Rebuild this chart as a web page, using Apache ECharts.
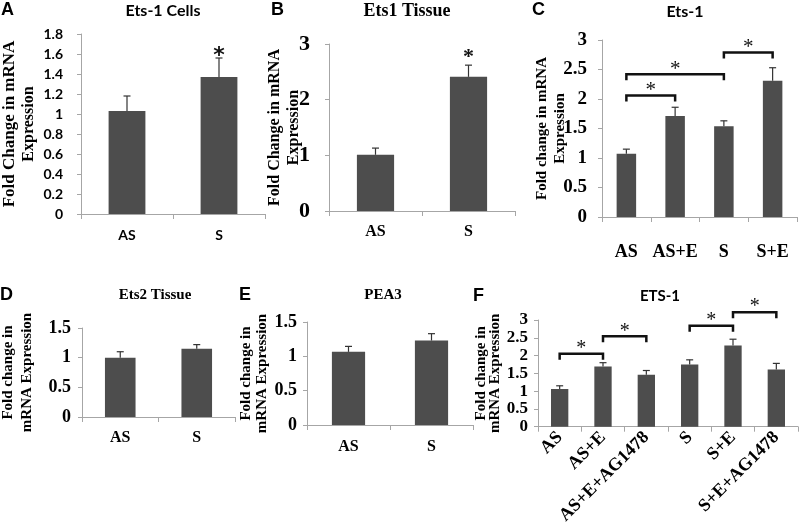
<!DOCTYPE html>
<html><head><meta charset="utf-8">
<script src="https://cdn.jsdelivr.net/npm/echarts@6/dist/echarts.min.js"></script>
<style>html,body{margin:0;padding:0;background:#fff}#c{width:800px;height:527px}</style>
</head><body><div id="c"></div>
<script>
// ---------- data ----------
// Panel A: Ets-1 Cells
const catsA = ['AS', 'S'];
const valsA = [1.03, 1.37];
const errA = [0.15, 0.19];
const starsA = [1];
const ticksA = [0, 0.2, 0.4, 0.6, 0.8, 1, 1.2, 1.4, 1.6, 1.8];
// Panel B: Ets1 Tissue
const catsB = ['AS', 'S'];
const valsB = [1.01, 2.41];
const errB = [0.12, 0.21];
const starsB = [1];
const ticksB = [0, 1, 2, 3];
// Panel C: Ets-1
const catsC = ['AS', 'AS+E', 'S', 'S+E'];
const valsC = [1.07, 1.71, 1.54, 2.31];
const errC = [0.08, 0.15, 0.09, 0.22];
const bracketsC = [[0, 1, 2.06], [0, 2, 2.42], [2, 3, 2.79]];
const ticksC = [0, 0.5, 1, 1.5, 2, 2.5, 3];
// Panel D: Ets2 Tissue
const catsD = ['AS', 'S'];
const valsD = [1.0, 1.15];
const errD = [0.10, 0.07];
const ticksD = [0, 0.5, 1, 1.5];
// Panel E: PEA3
const catsE = ['AS', 'S'];
const valsE = [1.065, 1.23];
const errE = [0.08, 0.10];
const ticksE = [0, 0.5, 1, 1.5];
// Panel F: ETS-1
const catsF = ['AS', 'AS+E', 'AS+E+AG1478', 'S', 'S+E', 'S+E+AG1478'];
const valsF = [1.06, 1.69, 1.46, 1.75, 2.28, 1.61];
const errF = [0.09, 0.11, 0.12, 0.13, 0.18, 0.17];
const bracketsF = [[0, 1, 2.05], [1, 2, 2.54], [3, 4, 2.84], [4, 5, 3.22]];
const ticksF = [0, 0.5, 1, 1.5, 2, 2.5, 3];

// ---------- styling ----------
const SERIF = '"Liberation Serif", "Times New Roman", serif';
const SANS = 'Lato, "Open Sans", sans-serif';
const ARIAL = '"Liberation Sans", Arial, sans-serif';
const AXIS = '#a6a6a6';
const BAR = '#4d4d4d';

const panels = [
  { cats: catsA, vals: valsA, errs: errA, stars: starsA, brackets: [], ticks: ticksA,
    grid: { left: 79, top: 34, width: 186, height: 180 },
    tickFam: SANS, tickSize: 14, tickMargin: 18, xFam: SANS, xSize: 14, xMargin: 14, rot: 0,
    name: ['Fold Change in mRNA', 'Expression'], nameSizes: [17, 16], nameLH: 19, nameGap: 43,
    starFont: 'bold 22px "DejaVu Sans"', starDy: -2 },
  { cats: catsB, vals: valsB, errs: errB, stars: starsB, brackets: [], ticks: ticksB,
    grid: { left: 329, top: 44, width: 186, height: 167 },
    tickFam: SERIF, tickSize: 22, tickMargin: 19, xFam: SERIF, xSize: 16, xMargin: 13, rot: 0,
    name: ['Fold Change in mRNA', 'Expression'], nameSizes: [16, 16], nameLH: 19, nameGap: 26,
    starFont: 'bold 22px ' + SERIF, starDy: -8 },
  { cats: catsC, vals: valsC, errs: errC, stars: [], brackets: bracketsC, ticks: ticksC,
    grid: { left: 602, top: 40, width: 195, height: 177 },
    tickFam: SERIF, tickSize: 19, tickMargin: 15, xFam: SERIF, xSize: 18, xMargin: 26, rot: 0,
    name: ['Fold change in mRNA', 'Expression'], nameSizes: [15, 15], nameLH: 18, nameGap: 33,
    bracketStarFont: '21px ' + SERIF, bracketDrop: 6 },
  { cats: catsD, vals: valsD, errs: errD, stars: [], brackets: [], ticks: ticksD,
    grid: { left: 80, top: 328, width: 155, height: 89 },
    tickFam: SERIF, tickSize: 18, tickMargin: 11, xFam: SERIF, xSize: 16, xMargin: 13, rot: 0,
    name: ['Fold change in', 'mRNA Expression'], nameSizes: [15, 15], nameLH: 19, nameGap: 45 },
  { cats: catsE, vals: valsE, errs: errE, stars: [], brackets: [], ticks: ticksE,
    grid: { left: 307, top: 322, width: 166, height: 103 },
    tickFam: SERIF, tickSize: 18, tickMargin: 10, xFam: SERIF, xSize: 16, xMargin: 14, rot: 0,
    name: ['Fold change in', 'mRNA Expression'], nameSizes: [15, 15], nameLH: 16, nameGap: 37 },
  { cats: catsF, vals: valsF, errs: errF, stars: [], brackets: bracketsF, ticks: ticksF,
    grid: { left: 538, top: 320, width: 260, height: 112 },
    tickFam: SERIF, tickSize: 17, tickMargin: 10, xFam: SERIF, xSize: 18, xMargin: 8, rot: 45,
    name: ['Fold change in', 'mRNA Expression'], nameSizes: [15, 15], nameLH: 14, nameGap: 36,
    bracketStarFont: '20px ' + SERIF, bracketDrop: 6 }
];

const grids = [], xAxes = [], yAxes = [], series = [];
panels.forEach((p, k) => {
  grids.push(Object.assign({ containLabel: false }, p.grid));
  xAxes.push({
    gridIndex: k, type: 'category', data: p.cats,
    axisLine: { show: true, lineStyle: { color: AXIS, width: 1 } },
    axisTick: { show: true, length: 5, lineStyle: { color: AXIS } },
    axisLabel: { fontFamily: p.xFam, fontSize: p.xSize, fontWeight: 'bold', color: '#000',
      margin: p.xMargin, rotate: p.rot, interval: 0 }
  });
  yAxes.push({
    gridIndex: k, type: 'value',
    min: p.ticks[0], max: p.ticks[p.ticks.length - 1], interval: p.ticks[1] - p.ticks[0],
    splitLine: { show: false },
    axisLine: { show: true, lineStyle: { color: AXIS, width: 1 } },
    axisTick: { show: true, length: 4, lineStyle: { color: AXIS } },
    axisLabel: { fontFamily: p.tickFam, fontSize: p.tickSize, fontWeight: 'bold', color: '#000', margin: p.tickMargin },
    name: '{a|' + p.name[0] + '}\n{b|' + p.name[1] + '}',
    nameLocation: 'middle', nameRotate: 90, nameGap: p.nameGap, nameMoveOverlap: false,
    nameTextStyle: {
      rich: {
        a: { fontFamily: SERIF, fontWeight: 'bold', fontSize: p.nameSizes[0], lineHeight: p.nameLH, color: '#000' },
        b: { fontFamily: SERIF, fontWeight: 'bold', fontSize: p.nameSizes[1], lineHeight: p.nameLH, color: '#000' }
      }
    }
  });
  series.push({
    type: 'bar', xAxisIndex: k, yAxisIndex: k, data: p.vals, barWidth: '40%',
    itemStyle: { color: BAR }, silent: true
  });
  series.push({
    type: 'custom', xAxisIndex: k, yAxisIndex: k, z: 4, silent: true,
    encode: { x: 0, y: 1 },
    data: p.cats.map((c, i) => [i, p.vals[i], p.errs[i]]),
    renderItem: function (params, api) {
      const i = api.value(0), v = api.value(1), e = api.value(2);
      const p0 = api.coord([i, v]), p1 = api.coord([i, v + e]);
      const st = { stroke: '#333', lineWidth: 1.2 };
      const ch = [
        { type: 'line', shape: { x1: p0[0], y1: p0[1], x2: p1[0], y2: p1[1] }, style: st },
        { type: 'line', shape: { x1: p1[0] - 3.5, y1: p1[1], x2: p1[0] + 3.5, y2: p1[1] }, style: st }
      ];
      if (p.stars.indexOf(i) >= 0) {
        ch.push({ type: 'text', x: p1[0], y: p1[1] + p.starDy,
          style: { text: '*', font: p.starFont, fill: '#111', align: 'center', verticalAlign: 'middle' } });
      }
      return { type: 'group', children: ch };
    }
  });
  if (p.brackets.length) {
    series.push({
      type: 'custom', xAxisIndex: k, yAxisIndex: k, z: 4, silent: true, clip: false,
      encode: { x: [0, 1], y: 2 },
      data: p.brackets,
      renderItem: function (params, api) {
        const a = api.value(0), b = api.value(1), lv = api.value(2);
        const pa = api.coord([a, lv]), pb = api.coord([b, lv]);
        const d = p.bracketDrop;
        return { type: 'group', children: [
          { type: 'polyline', shape: { points: [[pa[0], pa[1] + d], [pa[0], pa[1]], [pb[0], pb[1]], [pb[0], pb[1] + d]] },
            style: { stroke: '#111', lineWidth: 2.5, fill: null } },
          { type: 'text', x: (pa[0] + pb[0]) / 2, y: pa[1] - 5,
            style: { text: '*', font: p.bracketStarFont, fill: '#111', align: 'center', verticalAlign: 'middle' } }
        ] };
      }
    });
  }
});

function txt(x, y, text, font, align) {
  return { type: 'text', x: x, y: y, silent: true,
    style: { text: text, font: font, fill: '#000', align: align || 'center', verticalAlign: 'middle',
      textAlign: align || 'center', textVerticalAlign: 'middle' } };
}
const graphics = [
  txt(1, 10, 'A', 'bold 18px ' + ARIAL, 'left'),
  txt(271, 10, 'B', 'bold 18px ' + ARIAL, 'left'),
  txt(532, 10, 'C', 'bold 18px ' + ARIAL, 'left'),
  txt(0, 295, 'D', 'bold 18px ' + ARIAL, 'left'),
  txt(239, 295, 'E', 'bold 18px ' + ARIAL, 'left'),
  txt(473, 296, 'F', 'bold 18px ' + ARIAL, 'left'),
  txt(163, 11, 'Ets-1 Cells', 'bold 16px ' + SANS),
  txt(407, 11, 'Ets1 Tissue', 'bold 18px ' + SERIF),
  txt(685, 12, 'Ets-1', 'bold 16px ' + SANS),
  txt(155, 295, 'Ets2 Tissue', 'bold 15px ' + SERIF),
  txt(383, 295, 'PEA3', 'bold 15px ' + SERIF),
  txt(660, 296, 'ETS-1', 'bold 15px ' + SANS)
];

const chart = echarts.init(document.getElementById('c'));
chart.setOption({
  animation: false,
  backgroundColor: '#fff',
  grid: grids, xAxis: xAxes, yAxis: yAxes, series: series,
  graphic: graphics
});
</script>
</body></html>
